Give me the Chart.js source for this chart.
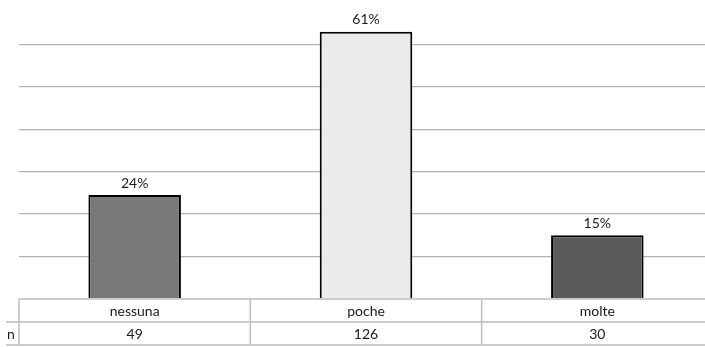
<!DOCTYPE html>
<html>
<head>
<meta charset="utf-8">
<script src="https://cdn.jsdelivr.net/npm/chart.js@4.4.1/dist/chart.umd.min.js"></script>
<style>
  html, body { margin: 0; padding: 0; background: #fff; overflow: hidden; width: 705px; height: 347px; }
  #wrap { position: relative; width: 713px; height: 347px; }
</style>
</head>
<body>
<div id="wrap"><canvas id="c" width="713" height="347"></canvas></div>
<script>
// Categories and respondent counts
const categories = ['nessuna', 'poche', 'molte'];
const counts = [49, 126, 30];
const barColors = ['#787878', '#ebebeb', '#5b5b5b'];
const rowHeader = 'n';

const total = counts.reduce((a, b) => a + b, 0);
const FONT = 'Lato, "Open Sans", sans-serif';

// Percent labels above each bar, computed from the same counts the bars use
const percentLabels = {
  id: 'percentLabels',
  afterDatasetsDraw(chart) {
    const { ctx } = chart;
    const meta = chart.getDatasetMeta(0);
    ctx.save();
    ctx.font = '14px ' + FONT;
    ctx.fillStyle = '#1a1a1a';
    ctx.textAlign = 'center';
    ctx.textBaseline = 'middle';
    meta.data.forEach((bar, i) => {
      const pct = Math.round(counts[i] / total * 100);
      ctx.fillText(pct + '%', bar.x, bar.y - 12);
    });
    ctx.restore();
  }
};

// Data table under the plot: category row and n row
const dataTable = {
  id: 'dataTable',
  afterDraw(chart) {
    const { ctx, chartArea } = chart;
    const x = chart.scales.x;
    const top = chartArea.bottom;
    const rowH = 23;
    const mid = top + rowH;
    const bot = top + rowH * 2;
    const left = chartArea.left;
    const right = chartArea.right;
    const step = (right - left) / categories.length;

    ctx.save();
    ctx.strokeStyle = '#bdbdbd';
    ctx.lineWidth = 1.5;
    ctx.beginPath();
    ctx.moveTo(left, top); ctx.lineTo(right, top);
    ctx.moveTo(6, mid); ctx.lineTo(right, mid);
    ctx.moveTo(6, bot); ctx.lineTo(right, bot);
    for (let i = 0; i <= categories.length; i++) {
      const vx = left + step * i;
      ctx.moveTo(vx, top); ctx.lineTo(vx, bot);
    }
    ctx.stroke();

    ctx.font = '14px ' + FONT;
    ctx.fillStyle = '#1a1a1a';
    ctx.textBaseline = 'middle';
    ctx.textAlign = 'center';
    categories.forEach((c, i) => {
      const cx = x.getPixelForValue(i);
      ctx.fillText(c, cx, top + rowH / 2 + 1);
      ctx.fillText(String(counts[i]), cx, mid + rowH / 2 + 1);
    });
    ctx.textAlign = 'left';
    ctx.fillText(rowHeader, 7, mid + rowH / 2 + 1);
    ctx.restore();
  }
};

new Chart(document.getElementById('c'), {
  type: 'bar',
  data: {
    labels: categories,
    datasets: [{
      data: counts,
      backgroundColor: barColors,
      borderColor: '#000',
      borderWidth: 2,
      borderSkipped: 'bottom',
      categoryPercentage: 1,
      barPercentage: 0.4
    }]
  },
  options: {
    responsive: false,
    animation: false,
    layout: { padding: { left: 19, right: 0, top: 2, bottom: 48 } },
    plugins: { legend: { display: false }, tooltip: { enabled: false } },
    scales: {
      x: {
        display: false,
        offset: true
      },
      y: {
        min: 0,
        max: 140,
        ticks: { display: false, stepSize: 20 },
        border: { display: false },
        grid: {
          drawTicks: false,
          lineWidth: 1.3,
          color: (c) => (c.tick && (c.tick.value === 0 || c.tick.value === 140)) ? 'rgba(0,0,0,0)' : '#b3b3b3'
        },
        afterFit(scale) { scale.width = 0; }
      }
    }
  },
  plugins: [percentLabels, dataTable]
});
</script>
</body>
</html>
